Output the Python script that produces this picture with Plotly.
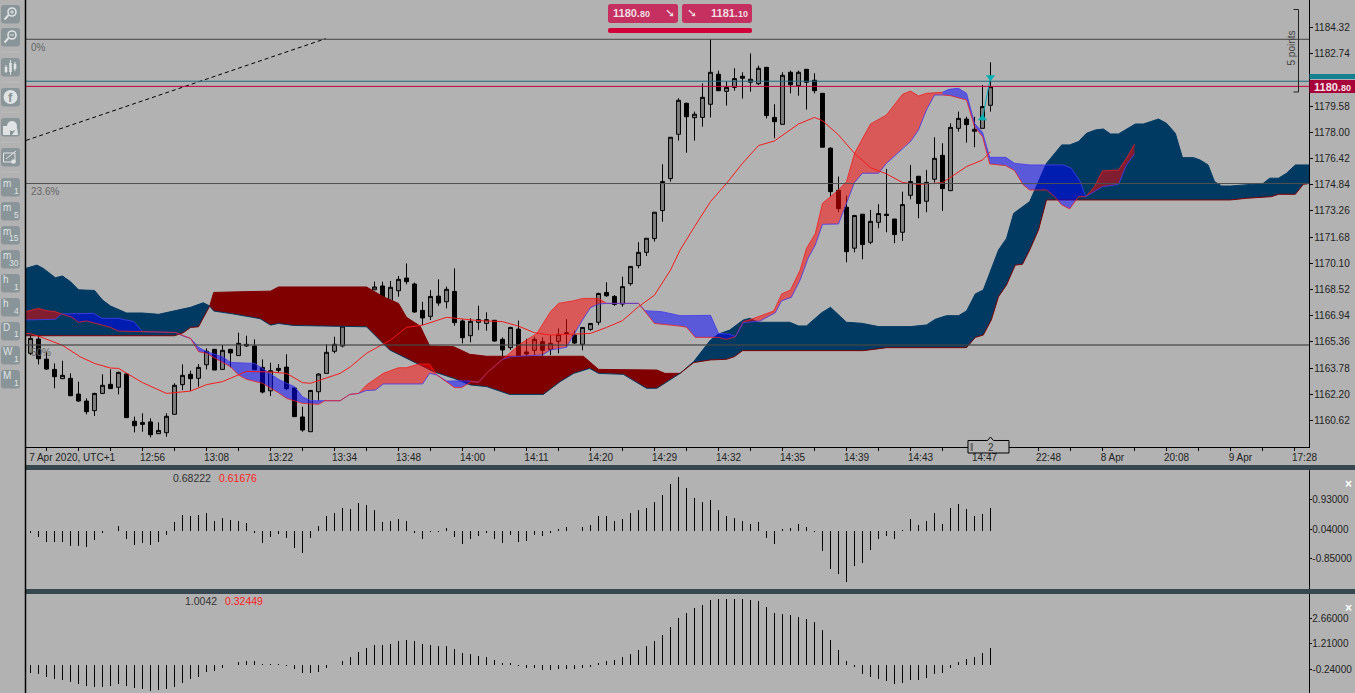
import plotly.graph_objs as go

BG = '#b2b2b2'
W, H = 1355, 693

# candles, prices
opens = [1164.67, 1165.53, 1164.32, 1163.70, 1163.14, 1163.16, 1162.21, 1161.79, 1161.21, 1162.25,
         1162.80, 1162.62, 1163.42, 1160.57, 1160.38, 1160.53, 1159.82, 1159.88, 1160.99, 1162.78,
         1163.40, 1163.16, 1163.98, 1164.91, 1163.70, 1164.91, 1164.53, 1165.21, 1165.11, 1163.82,
         1162.41, 1163.64, 1163.84, 1162.58, 1160.83, 1159.94, 1162.35, 1163.46, 1164.79, 1165.11,
         1166.70, 1167.40, 1167.90, 1168.50, 1168.73, 1167.68, 1168.44, 1169.21, 1168.85, 1167.26,
         1166.90, 1168.12, 1167.78, 1168.40, 1166.62, 1165.73, 1166.54, 1166.47, 1166.66, 1165.51,
         1165.01, 1166.13, 1164.75, 1164.85, 1165.37, 1164.91, 1165.39, 1165.91, 1165.77, 1165.21,
         1166.11, 1166.54, 1168.34, 1168.10, 1167.64, 1168.87, 1169.96, 1170.76, 1171.59, 1173.28,
         1175.21, 1177.88, 1179.75, 1178.88, 1178.90, 1179.69, 1181.50, 1180.47, 1180.71, 1181.38,
         1181.02, 1180.93, 1181.92, 1178.90, 1178.48, 1181.62, 1180.81, 1181.80, 1181.14, 1180.35,
         1177.04, 1174.50, 1173.48, 1171.01, 1173.06, 1171.37, 1172.57, 1173.06, 1172.77, 1171.97,
         1174.20, 1175.35, 1173.84, 1175.17, 1176.61, 1174.48, 1178.24, 1178.80, 1178.06, 1178.24, 1179.63]
closes = [1165.57, 1164.34, 1163.72, 1163.26, 1163.34, 1162.11, 1161.79, 1161.15, 1162.25, 1162.74,
          1162.54, 1163.52, 1160.79, 1160.30, 1160.50, 1159.76, 1160.02, 1160.87, 1162.74, 1163.34,
          1163.14, 1163.82, 1164.79, 1163.66, 1164.85, 1164.69, 1165.27, 1165.11, 1163.68, 1162.33,
          1163.62, 1163.76, 1162.54, 1160.85, 1160.04, 1162.43, 1163.42, 1164.73, 1165.21, 1166.31,
          1167.50, 1167.90, 1168.40, 1168.67, 1168.00, 1168.65, 1169.13, 1168.99, 1167.16, 1166.80,
          1168.10, 1167.70, 1168.53, 1166.52, 1165.61, 1166.60, 1166.70, 1166.70, 1165.41, 1164.87,
          1166.23, 1164.46, 1164.63, 1165.51, 1164.85, 1165.27, 1165.81, 1165.85, 1165.29, 1166.23,
          1166.47, 1168.28, 1168.14, 1167.62, 1168.69, 1169.91, 1170.76, 1171.61, 1173.18, 1175.03,
          1177.70, 1179.93, 1178.94, 1179.09, 1180.11, 1181.62, 1180.51, 1180.71, 1181.24, 1181.26,
          1181.20, 1181.86, 1179.01, 1178.64, 1181.44, 1180.87, 1181.62, 1181.02, 1180.51, 1177.10,
          1174.42, 1173.40, 1170.80, 1172.98, 1171.23, 1172.63, 1173.10, 1172.98, 1171.83, 1173.64,
          1175.03, 1173.70, 1174.98, 1176.43, 1174.60, 1178.30, 1178.84, 1178.46, 1178.18, 1179.55, 1180.75]
highs = [1165.77, 1165.77, 1164.77, 1164.06, 1164.22, 1163.46, 1162.96, 1161.95, 1162.29, 1163.40,
         1163.70, 1163.56, 1163.46, 1160.85, 1161.05, 1160.75, 1160.50, 1161.05, 1162.86, 1164.00,
         1163.62, 1164.02, 1164.97, 1164.91, 1165.17, 1164.91, 1165.91, 1165.73, 1165.51, 1164.30,
         1164.10, 1164.02, 1164.61, 1162.58, 1161.45, 1162.45, 1163.46, 1165.21, 1165.67, 1166.31,
         1167.60, 1168.10, 1168.50, 1168.99, 1168.99, 1169.03, 1169.33, 1170.09, 1168.93, 1167.78,
         1168.48, 1169.13, 1168.69, 1169.79, 1166.72, 1166.78, 1167.54, 1167.14, 1166.68, 1165.63,
         1166.27, 1166.64, 1165.55, 1165.67, 1165.63, 1165.77, 1166.17, 1166.72, 1166.03, 1166.23,
         1166.47, 1168.32, 1168.95, 1168.18, 1169.29, 1169.91, 1171.37, 1171.61, 1173.18, 1176.07,
         1177.70, 1180.05, 1179.79, 1179.25, 1180.95, 1183.61, 1181.72, 1181.06, 1181.86, 1181.62,
         1182.76, 1182.02, 1181.92, 1179.69, 1181.62, 1181.72, 1181.72, 1181.80, 1181.56, 1180.35,
         1177.10, 1175.33, 1174.18, 1173.02, 1173.06, 1173.32, 1173.66, 1175.79, 1172.77, 1174.42,
         1176.03, 1175.35, 1175.73, 1177.70, 1177.34, 1178.54, 1179.25, 1178.94, 1178.94, 1180.85, 1182.22]
lows = [1164.57, 1164.00, 1163.66, 1162.56, 1163.14, 1162.11, 1161.75, 1160.99, 1160.89, 1162.21,
        1162.52, 1162.19, 1160.79, 1159.90, 1159.94, 1159.60, 1159.80, 1159.64, 1160.99, 1162.45,
        1162.41, 1162.66, 1163.70, 1163.66, 1163.66, 1163.82, 1164.53, 1165.07, 1163.66, 1162.25,
        1162.09, 1163.50, 1162.45, 1160.85, 1159.94, 1159.94, 1161.81, 1163.46, 1164.67, 1165.03,
        1166.60, 1167.20, 1167.80, 1168.50, 1167.88, 1167.68, 1168.08, 1168.83, 1167.12, 1166.37,
        1166.68, 1167.54, 1167.38, 1166.33, 1165.27, 1165.33, 1166.07, 1166.03, 1165.37, 1164.46,
        1164.87, 1164.42, 1164.46, 1164.57, 1164.51, 1164.57, 1164.67, 1165.07, 1165.23, 1164.85,
        1166.03, 1166.37, 1168.08, 1167.54, 1167.48, 1168.75, 1169.80, 1170.54, 1171.41, 1172.61,
        1175.03, 1177.50, 1176.77, 1177.50, 1178.34, 1178.90, 1180.51, 1179.61, 1180.51, 1180.03,
        1180.45, 1180.85, 1178.84, 1177.64, 1178.48, 1180.35, 1180.21, 1179.37, 1180.35, 1177.10,
        1174.12, 1173.18, 1170.16, 1170.76, 1170.34, 1171.25, 1172.21, 1171.97, 1171.31, 1171.45,
        1173.96, 1172.81, 1173.18, 1174.97, 1173.26, 1174.46, 1178.04, 1177.38, 1177.10, 1178.24, 1179.25]
bars = list(range(len(opens)))

# red moving average
ma_x = [-0.6, 0, 1.2, 4, 6.2, 8, 10, 11, 14, 17, 20, 22, 24, 27, 30, 32, 34, 35, 38.7, 40, 42, 44, 45, 47, 49,
        52, 56, 59, 61, 63, 65, 68, 70, 72, 74, 76, 78, 80, 81.2, 83, 85, 87, 89, 91, 93, 96, 98, 99, 101, 103,
        105, 107, 109, 111, 113, 114, 117, 119, 120]
ma_y = [1165.87, 1165.85, 1165.67, 1165.15, 1164.46, 1164.06, 1163.78, 1163.76, 1162.90, 1162.25, 1162.39,
        1162.78, 1162.96, 1163.58, 1163.54, 1163.46, 1162.90, 1162.86, 1163.46, 1163.86, 1164.67, 1165.23,
        1165.47, 1166.23, 1166.37, 1166.84, 1166.64, 1166.58, 1166.31, 1165.91, 1165.77, 1165.83, 1165.87,
        1166.23, 1166.64, 1167.48, 1168.18, 1169.69, 1170.90, 1172.31, 1173.82, 1174.92, 1176.13, 1177.20,
        1177.48, 1178.50, 1178.90, 1178.70, 1177.84, 1176.73, 1175.87, 1175.49, 1174.97, 1174.86, 1174.92,
        1174.96, 1175.93, 1176.33, 1176.83]

# opaque cloud, navy and dark red sections
navy1_up_x = [-0.6, 0.8, 1.6, 3.1, 4, 5, 6, 8, 9, 10, 12, 14, 16, 18, 20, 21.6, 22.4]
navy1_up_y = [1169.79, 1169.99, 1169.79, 1169.23, 1169.33, 1168.99, 1168.50, 1168.46, 1167.88, 1167.52,
              1167.10, 1167.10, 1167.02, 1167.24, 1167.44, 1167.72, 1167.52]
navy1_lo_x = [-0.6, 18, 19.1, 20, 21, 22.4]
navy1_lo_y = [1165.73, 1165.73, 1165.91, 1166.23, 1166.27, 1167.52]

dred1_up_x = [22.4, 22.9, 26.2, 30, 31, 42, 44.1, 46, 47, 48.7, 49.9, 52.9, 54.9, 57, 69.1, 69.9, 71, 78.3, 79.3, 81.2]
dred1_up_y = [1167.52, 1168.34, 1168.38, 1168.42, 1168.67, 1168.67, 1168.08, 1167.68, 1166.84, 1166.31,
              1165.11, 1165.07, 1164.61, 1164.49, 1164.49, 1164.16, 1163.70, 1163.66, 1163.46, 1163.46]
dred1_lo_x = [22.4, 22.9, 25.4, 28.7, 30, 31, 32.9, 36.2, 42, 44.9, 47.4, 50.4, 52.9, 55, 57, 59.9, 64.1, 66.2,
              67.9, 69.9, 71, 74.1, 77, 78.3, 81.2]
dred1_lo_y = [1167.52, 1167.22, 1167.04, 1166.76, 1166.37, 1166.47, 1166.35, 1166.31, 1166.27, 1164.87, 1164.26,
              1163.56, 1163.16, 1162.76, 1162.66, 1162.19, 1162.19, 1162.96, 1163.46, 1163.76, 1163.46, 1163.40,
              1162.56, 1162.56, 1163.46]

navy2_up_x = [81.2, 82.9, 85, 86, 87.4, 89.1, 89.9, 91, 94.9, 96, 97, 98.9, 100, 102, 103.9, 106, 110, 112, 113.1,
              114.5, 116, 117, 118.1, 119.1, 121, 122, 122.9, 123.7, 124.9, 127, 128.9, 129.9, 131, 132, 133.1,
              134.1, 135, 136, 138.1, 139.1, 141, 142, 143.1, 144, 145.4, 146.2, 147.2, 148, 148.9, 150, 152,
              154.1, 154.9, 156, 157, 158.1, 159.9]
navy2_up_y = [1163.46, 1164.17, 1165.47, 1165.83, 1166.07, 1166.68, 1166.78, 1166.54, 1166.54, 1166.32, 1166.32,
              1167.12, 1167.44, 1166.54, 1166.48, 1166.28, 1166.28, 1166.38, 1166.72, 1166.94, 1166.94, 1167.22,
              1168.25, 1168.49, 1170.90, 1171.60, 1173.11, 1173.41, 1173.82, 1176.13, 1177.24, 1177.24, 1177.44,
              1177.94, 1178.14, 1178.20, 1177.90, 1177.90, 1178.50, 1178.50, 1178.80, 1178.54, 1177.94, 1176.47,
              1176.47, 1176.33, 1176.03, 1175.03, 1174.76, 1174.76, 1174.82, 1174.92, 1175.23, 1175.23, 1175.53,
              1176.03, 1176.03]
navy2_lo_x = [81.2, 82.9, 85, 87, 88, 89, 104.1, 106, 107, 117, 118.1, 119.1, 120.1, 121, 122, 123.1, 124, 124.9,
              126, 127, 150, 152, 155.1, 156, 158.1, 159.1, 159.9]
navy2_lo_y = [1163.46, 1164.11, 1164.27, 1164.31, 1164.47, 1164.83, 1164.83, 1164.93, 1165.01, 1165.01, 1165.63,
              1165.77, 1166.68, 1168.08, 1168.79, 1169.99, 1170.04, 1170.90, 1172.11, 1173.92, 1173.92, 1174.02,
              1174.12, 1174.26, 1174.26, 1174.86, 1174.92]

# translucent cloud, alternating red and blue sections
red0_up_x = [-0.6, 1, 2, 3.1, 3.9]
red0_up_y = [1167.18, 1167.38, 1167.24, 1167.18, 1167.04]
red0_lo_x = [-0.6, 2, 3.1, 3.9]
red0_lo_y = [1166.68, 1166.72, 1166.72, 1167.04]

blue1_up_x = [3.9, 7.9, 8.9, 11, 12.9, 14, 17.9, 18.1]
blue1_up_y = [1167.04, 1167.08, 1166.78, 1166.78, 1166.58, 1165.97, 1165.93, 1165.93]
blue1_lo_x = [3.9, 5.2, 6, 7, 9, 10, 11, 14, 17.9, 18.1]
blue1_lo_y = [1167.04, 1166.84, 1166.54, 1166.62, 1166.37, 1166.23, 1166.01, 1165.97, 1165.93, 1165.93]

blue2_up_x = [18.1, 19.1, 20, 21, 22, 24, 25, 28, 29, 31, 32, 33, 34, 35, 36.8, 38.7, 39.9, 41]
blue2_up_y = [1165.93, 1165.71, 1165.57, 1165.03, 1164.77, 1164.46, 1164.12, 1164.06, 1163.76, 1163.10, 1162.86,
              1162.66, 1162.05, 1161.81, 1161.81, 1161.81, 1162.19, 1162.25]
blue2_lo_x = [18.1, 20, 21, 22, 24, 25, 26, 27, 29, 31, 32, 34, 36, 36.8, 38.7, 39.9, 41]
blue2_lo_y = [1165.93, 1165.57, 1164.77, 1164.67, 1164.12, 1163.86, 1163.36, 1163.10, 1162.86, 1162.29, 1161.95,
              1161.65, 1161.59, 1161.81, 1161.81, 1162.19, 1162.25]

red2_up_x = [41, 42, 44.1, 46, 47, 48.5, 49.9, 50.8]
red2_up_y = [1162.25, 1162.76, 1163.46, 1163.80, 1163.80, 1164.02, 1164.02, 1163.36]
red2_lo_x = [41, 42, 43.1, 44.1, 49, 49.9, 50.8]
red2_lo_y = [1162.25, 1162.43, 1162.45, 1162.82, 1162.82, 1163.46, 1163.36]

blue3_up_x = [50.8, 52, 54.7, 56, 57.2, 59]
blue3_up_y = [1163.36, 1163.00, 1163.00, 1162.92, 1163.56, 1164.30]
blue3_lo_x = [50.8, 53, 53.9, 55.1, 56, 57.2, 59]
blue3_lo_y = [1163.36, 1162.60, 1162.60, 1162.96, 1162.92, 1163.56, 1164.30]

red3_up_x = [59, 61.2, 63.3, 65, 66, 67.9, 69, 71, 72, 76]
red3_up_y = [1164.30, 1165.23, 1165.87, 1167.18, 1167.68, 1167.84, 1167.98, 1167.98, 1167.68, 1167.68]
red3_lo_x = [59, 60, 64, 65, 67, 68, 69, 70, 71, 72, 76]
red3_lo_y = [1164.30, 1164.46, 1164.57, 1164.87, 1165.03, 1165.87, 1166.68, 1167.42, 1167.64, 1167.68, 1167.68]

blue4_up_x = [76, 76.8, 78.9, 81.2, 85, 86, 87.4, 88.1]
blue4_up_y = [1167.68, 1167.24, 1167.18, 1166.94, 1166.96, 1165.87, 1165.83, 1165.67]
blue4_lo_x = [76, 78, 81.2, 82, 83.1, 86, 87, 88.1]
blue4_lo_y = [1167.68, 1166.47, 1166.31, 1166.24, 1165.63, 1165.63, 1165.51, 1165.67]

red4_up_x = [88.1, 89.1, 90.1, 92.9, 93.9, 95, 96.2, 97, 98.1, 99, 101, 102, 103, 104, 105, 107, 109, 110, 111, 112, 114]
red4_up_y = [1165.67, 1166.58, 1166.72, 1167.22, 1168.25, 1168.49, 1169.69, 1171.00, 1171.90, 1173.72, 1174.52,
             1175.03, 1176.73, 1177.64, 1178.50, 1179.05, 1180.29, 1180.49, 1180.19, 1180.35, 1180.41]
red4_lo_x = [88.1, 89.1, 91.2, 93.1, 93.9, 95.1, 96.2, 97.2, 98.1, 99, 101, 103, 104, 106, 107, 109, 110, 111, 112, 113, 114]
red4_lo_y = [1165.67, 1166.52, 1166.62, 1167.12, 1167.84, 1168.04, 1169.09, 1170.40, 1171.20, 1172.45, 1172.47,
             1174.97, 1175.53, 1175.53, 1176.13, 1177.04, 1177.44, 1178.14, 1179.35, 1180.25, 1180.25]

blue5_up_x = [114, 114.8, 116, 117, 118, 119, 119.9, 121.9, 123, 124.9, 129.1, 130.1, 131.2, 131.9]
blue5_up_y = [1180.41, 1180.59, 1180.65, 1180.35, 1178.54, 1178.00, 1176.49, 1176.49, 1176.13, 1176.03, 1176.03,
              1175.83, 1175.03, 1174.12]
blue5_lo_x = [114, 115, 117, 118, 119, 119.9, 121.9, 123, 124.1, 124.9, 127, 128, 128.9, 129.9, 131, 131.9]
blue5_lo_y = [1180.25, 1180.21, 1179.95, 1178.34, 1177.74, 1176.09, 1175.99, 1175.69, 1174.82, 1174.52, 1174.52,
              1174.12, 1173.62, 1173.38, 1174.12, 1174.12]

red5_up_x = [131.9, 133, 134, 136, 137, 138]
red5_up_y = [1174.12, 1174.72, 1175.67, 1175.73, 1176.43, 1177.28]
red5_lo_x = [131.9, 133, 134, 136, 137, 138]
red5_lo_y = [1174.12, 1174.42, 1174.72, 1174.86, 1176.03, 1176.69]

# price levels and drawings
fib_levels = [1183.61, 1174.91, 1165.17]
ask_level = 1181.08
bid_level = 1180.77
trend_x = [-0.56, 36.9]
trend_y = [1177.51, 1183.65]
trade_x = [119, 120]
trade_y = [1178.84, 1181.32]

# oscillators
osc1 = [-0.08, -0.20, -0.33, -0.34, -0.33, -0.47, -0.47, -0.50, -0.27, -0.06, 0, 0.15, -0.26, -0.44, -0.38, -0.44,
        -0.35, -0.12, 0.27, 0.48, 0.43, 0.46, 0.53, 0.30, 0.37, 0.31, 0.30, 0.24, -0.06, -0.38, -0.20, -0.09, -0.23,
        -0.51, -0.67, -0.23, 0.13, 0.45, 0.54, 0.68, 0.66, 0.84, 0.78, 0.62, 0.25, 0.30, 0.36, 0.30, -0.08, -0.26,
        -0.05, -0.05, 0.09, -0.20, -0.41, -0.26, -0.15, -0.08, -0.26, -0.38, -0.12, -0.33, -0.30, -0.12, -0.15,
        -0.06, 0.06, 0.12, 0, 0.12, 0.18, 0.45, 0.45, 0.30, 0.36, 0.53, 0.62, 0.68, 0.86, 1.07, 1.40, 1.63, 1.28,
        0.98, 0.86, 0.92, 0.62, 0.45, 0.39, 0.30, 0.21, 0.27, -0.23, -0.41, 0.04, 0.09, 0.21, 0.12, -0.04, -0.61,
        -1.15, -1.32, -1.56, -1.06, -0.97, -0.58, -0.26, -0.15, -0.26, 0.03, 0.36, 0.18, 0.30, 0.53, 0.21, 0.68,
        0.80, 0.65, 0.45, 0.50, 0.68222]
osc2 = [-0.48, -0.54, -0.68, -0.77, -0.83, -0.95, -1.10, -1.22, -1.24, -1.24, -1.20, -1.06, -1.20, -1.31, -1.37,
        -1.47, -1.45, -1.35, -1.24, -1.00, -0.81, -0.68, -0.42, -0.33, -0.15, 0, 0.19, 0.25, 0.25, 0.06, 0.06, 0.06,
        -0.06, -0.23, -0.48, -0.48, -0.39, -0.19, 0, 0.23, 0.46, 0.75, 0.98, 1.16, 1.16, 1.22, 1.35, 1.45, 1.35,
        1.18, 1.16, 1.10, 1.10, 0.93, 0.69, 0.64, 0.52, 0.46, 0.29, 0.12, 0.12, -0.06, -0.17, -0.17, -0.29, -0.29,
        -0.23, -0.23, -0.23, -0.17, -0.12, 0.12, 0.23, 0.29, 0.46, 0.64, 0.87, 1.10, 1.39, 1.74, 2.20, 2.72, 3.01,
        3.24, 3.42, 3.71, 3.76, 3.76, 3.76, 3.76, 3.71, 3.65, 3.30, 3.01, 2.95, 2.84, 2.78, 2.66, 2.49, 2.03, 1.45,
        0.87, 0.23, -0.12, -0.52, -0.69, -0.81, -0.93, -1.10, -1.04, -0.87, -0.87, -0.75, -0.52, -0.46, -0.17, 0.17,
        0.35, 0.46, 0.69, 1.0042]

# ticks
price_ticks = [1160.62, 1162.20, 1163.78, 1165.36, 1166.94, 1168.52, 1170.10, 1171.68, 1173.26, 1174.84,
               1176.42, 1178.00, 1179.58, 1182.74, 1184.32]
time_pos = [5.2] + [15.25 + 8 * k for k in range(19)]
time_labels = ['7 Apr 2020, UTC+1', '12:56', '13:08', '13:22', '13:34', '13:48', '14:00', '14:11', '14:20', '14:29',
               '14:32', '14:35', '14:39', '14:43', '14:47', '22:48', '8 Apr', '20:08', '9 Apr', '17:28']
osc1_ticks = [0.93, 0.04, -0.85]
osc1_labels = ['0.93000', '0.04000', '-0.85000']
osc2_ticks = [2.66, 1.21, -0.24]
osc2_labels = ['2.66000', '1.21000', '-0.24000']

NAVY = '#003a63'
DRED = '#800000'
RED_FILL = 'rgba(255,0,0,0.5)'
BLUE_FILL = 'rgba(0,0,255,0.5)'
RED_LINE = 'rgba(245,30,30,0.8)'
BLUE_LINE = 'rgba(70,60,235,0.85)'


def px(x):
    return x / W


def py(y):
    return 1 - y / H


def band(up_x, up_y, lo_x, lo_y, fill, up_col, lo_col):
    poly_x = up_x + lo_x[::-1]
    poly_y = up_y + lo_y[::-1]
    tr = [go.Scatter(x=poly_x, y=poly_y, mode='none', fill='toself', fillcolor=fill, hoverinfo='skip')]
    tr.append(go.Scatter(x=up_x, y=up_y, mode='lines', line=dict(color=up_col, width=1), hoverinfo='skip'))
    tr.append(go.Scatter(x=lo_x, y=lo_y, mode='lines', line=dict(color=lo_col, width=1), hoverinfo='skip'))
    return tr


candles = go.Candlestick(x=bars, open=opens, high=highs, low=lows, close=closes, whiskerwidth=0,
                         increasing=dict(line=dict(color='#000000', width=1), fillcolor='#7f7f7f'),
                         decreasing=dict(line=dict(color='#000000', width=1), fillcolor='#000000'))

data = [candles]
data += band(navy1_up_x, navy1_up_y, navy1_lo_x, navy1_lo_y, NAVY, NAVY, DRED)
data += band(dred1_up_x, dred1_up_y, dred1_lo_x, dred1_lo_y, DRED, DRED, NAVY)
data += band(navy2_up_x, navy2_up_y, navy2_lo_x, navy2_lo_y, NAVY, NAVY, DRED)
data += band(red0_up_x, red0_up_y, red0_lo_x, red0_lo_y, RED_FILL, RED_LINE, BLUE_LINE)
data += band(blue1_up_x, blue1_up_y, blue1_lo_x, blue1_lo_y, BLUE_FILL, BLUE_LINE, RED_LINE)
data += band(blue2_up_x, blue2_up_y, blue2_lo_x, blue2_lo_y, BLUE_FILL, BLUE_LINE, RED_LINE)
data += band(red2_up_x, red2_up_y, red2_lo_x, red2_lo_y, RED_FILL, RED_LINE, BLUE_LINE)
data += band(blue3_up_x, blue3_up_y, blue3_lo_x, blue3_lo_y, BLUE_FILL, BLUE_LINE, RED_LINE)
data += band(red3_up_x, red3_up_y, red3_lo_x, red3_lo_y, RED_FILL, RED_LINE, BLUE_LINE)
data += band(blue4_up_x, blue4_up_y, blue4_lo_x, blue4_lo_y, BLUE_FILL, BLUE_LINE, RED_LINE)
data += band(red4_up_x, red4_up_y, red4_lo_x, red4_lo_y, RED_FILL, RED_LINE, BLUE_LINE)
data += band(blue5_up_x, blue5_up_y, blue5_lo_x, blue5_lo_y, BLUE_FILL, BLUE_LINE, RED_LINE)
data += band(red5_up_x, red5_up_y, red5_lo_x, red5_lo_y, RED_FILL, RED_LINE, BLUE_LINE)

data.append(go.Scatter(x=ma_x, y=ma_y, mode='lines', line=dict(color='#f41a1a', width=1), hoverinfo='skip'))
data.append(go.Scatter(x=trend_x, y=trend_y, mode='lines', line=dict(color='#000000', width=1, dash='4px,3px'),
                       hoverinfo='skip'))
data.append(go.Scatter(x=trade_x, y=trade_y, mode='lines+markers', line=dict(color='#00aeb4', width=1),
                       marker=dict(symbol=['triangle-up', 'triangle-down'], size=8, color='#00aeb4'),
                       hoverinfo='skip'))
# a touch of transparency stops plotly widening the 1px bars to 2px
data.append(go.Bar(x=bars, y=osc1, width=0.125, marker=dict(color='rgba(0,0,0,0.99)', line=dict(width=0)),
                   xaxis='x2', yaxis='y2'))
data.append(go.Bar(x=bars, y=osc2, width=0.125, marker=dict(color='rgba(0,0,0,0.99)', line=dict(width=0)),
                   xaxis='x3', yaxis='y3'))

shapes = []


def hline(price, color, width):
    shapes.append(dict(type='line', xref='x', yref='y', x0=-0.56, x1=159.85, y0=price, y1=price,
                       line=dict(color=color, width=width), layer='above'))


hline(fib_levels[0], '#444444', 1)
hline(fib_levels[1], '#505050', 1)
hline(fib_levels[2], 'rgba(70,70,70,0.62)', 2)
hline(ask_level, '#1c6b80', 1)
hline(bid_level, '#c8003c', 1)


def paper_rect(x0, y0, x1, y1, fill, line=None, layer='above'):
    shapes.append(dict(type='rect', xref='paper', yref='paper', x0=px(x0), x1=px(x1), y0=py(y0), y1=py(y1),
                       fillcolor=fill, line=dict(width=0) if line is None else line, layer=layer))


def paper_line(x0, y0, x1, y1, color, width=1):
    shapes.append(dict(type='line', xref='paper', yref='paper', x0=px(x0), x1=px(x1), y0=py(y0), y1=py(y1),
                       line=dict(color=color, width=width), layer='above'))


def paper_circle(cx, cy, r, fill, line=None):
    shapes.append(dict(type='circle', xref='paper', yref='paper', x0=px(cx - r), x1=px(cx + r), y0=py(cy + r),
                       y1=py(cy - r), fillcolor=fill, line=dict(width=0) if line is None else line, layer='above'))


def round_rect(x0, y0, x1, y1, r, fill, line=None):
    path = 'M%f,%f L%f,%f Q%f,%f %f,%f L%f,%f Q%f,%f %f,%f L%f,%f Q%f,%f %f,%f L%f,%f Q%f,%f %f,%f Z' % (
        px(x0 + r), py(y0), px(x1 - r), py(y0), px(x1), py(y0), px(x1), py(y0 + r),
        px(x1), py(y1 - r), px(x1), py(y1), px(x1 - r), py(y1),
        px(x0 + r), py(y1), px(x0), py(y1), px(x0), py(y1 - r),
        px(x0), py(y0 + r), px(x0), py(y0), px(x0 + r), py(y0))
    shapes.append(dict(type='path', xref='paper', yref='paper', path=path, fillcolor=fill,
                       line=dict(width=0) if line is None else line, layer='above'))


annotations = []


def label(x, y, text, color='#333333', size=10, anchor='left', angle=0, font='Liberation Sans'):
    annotations.append(dict(x=px(x), y=py(y), xref='paper', yref='paper', text=text, showarrow=False, xanchor=anchor,
                            yanchor='middle', align='left', textangle=angle, borderpad=0, borderwidth=0,
                            font=dict(color=color, size=size, family=font)))


# panel separators and left border
paper_rect(26, 465, W, 470, '#37474f')
paper_rect(26, 589, W, 594, '#37474f')
paper_line(25.5, 0, 25.5, H, '#000000', 1.5)

# toolbar
ICON = '#8a9599'
GLYPH = '#dfe3e3'
icon_tops = [5, 28, 58, 88, 118, 148, 178, 202, 226, 250, 274, 298, 322, 346, 370]
for top in icon_tops:
    round_rect(1, top, 20, top + 18.5, 3, ICON)
for y in [52, 82, 112, 142, 172]:
    paper_line(1, y, 20, y, '#bdbdbd', 1)

paper_circle(12, 12, 4, ICON, dict(color=GLYPH, width=1.6))
paper_line(8.5, 15, 4.5, 19.5, GLYPH, 2)
paper_line(10, 12, 14, 12, GLYPH, 1)
paper_line(12, 10, 12, 14, GLYPH, 1)
paper_circle(12, 35, 4, ICON, dict(color=GLYPH, width=1.6))
paper_line(8.5, 38, 4.5, 42.5, GLYPH, 2)
paper_line(10, 35, 14, 35, GLYPH, 1)
for cx, y0, y1, t0, t1 in [(6, 65, 73, 67, 72), (10.5, 60, 75, 63, 72), (15, 62, 71, 64, 69)]:
    paper_line(cx, y0, cx, y1, GLYPH, 1)
    paper_rect(cx - 1.3, t0, cx + 1.3, t1, GLYPH)
paper_circle(10.5, 97, 7, GLYPH)
label(10.5, 97.5, '<b>f</b>', ICON, 13, 'center')
paper_circle(12, 126, 5, GLYPH)
paper_rect(3, 126, 10, 135, GLYPH)
shapes.append(dict(type='path', xref='paper', yref='paper', layer='above', fillcolor=GLYPH, line=dict(width=0),
                   path='M%f,%f L%f,%f L%f,%f Z' % (px(12), py(135), px(17), py(127), px(18), py(135))))
paper_rect(3.5, 153, 15, 162, ICON, dict(color=GLYPH, width=1))
paper_line(6, 159, 16, 151, GLYPH, 1)
paper_circle(13.5, 161.5, 2.3, GLYPH)
for top, a, b in zip(icon_tops[6:], ['m', 'm', 'm', 'm', 'h', 'h', 'D', 'W', 'M'], ['1', '5', '15', '30', '1', '4', '1', '1', '1']):
    label(2.5, top + 5.5, a, GLYPH, 10)
    label(18.5, top + 12.5, b, GLYPH, 8.5, 'right')

# price tags over the top
round_rect(608, 4, 678, 23, 2.5, '#c53060')
round_rect(682, 4, 752, 23, 2.5, '#c53060')
round_rect(608, 28, 752, 33, 2, '#d00038')
label(612.5, 13.5, '<b>1180.<span style="font-size:9px">80</span></b>', '#f0dfe2', 11)
label(747.5, 13.5, '<b>1181.<span style="font-size:9px">10</span></b>', '#f0dfe2', 11, 'right')
label(669.5, 13.5, '\u2798', '#f0dfe2', 12, 'center', font='DejaVu Sans')
label(691.5, 13.5, '\u2798', '#f0dfe2', 12, 'center', font='DejaVu Sans')

# axis price flags
paper_rect(1309.5, 74, W, 79, '#14808f')
paper_rect(1309.5, 80, W, 93, '#a80038')
label(1314, 86.5, '<b>1180.<span style="font-size:9px">80</span></b>', '#f5e6ea', 11)

# bracket
paper_line(1293.5, 9.5, 1298.5, 9.5, '#222222', 1)
paper_line(1298.5, 9.5, 1298.5, 92, '#222222', 1)
paper_line(1293.5, 92, 1298.5, 92, '#222222', 1)
label(1291.5, 48, '5 points', '#444444', 10, 'center', -90)

# fib labels
label(30.5, 47.5, '0%', '#666666', 10)
label(30.5, 191.5, '23.6%', '#666666', 10)
label(31, 352.5, '50%', '#666666', 10)

# scroll tab
shapes.append(dict(type='path', xref='paper', yref='paper', layer='above', fillcolor=BG,
                   line=dict(color='#000000', width=1),
                   path='M%f,%f L%f,%f L%f,%f L%f,%f L%f,%f L%f,%f L%f,%f Z' % (
                       px(968), py(440.5), px(987.5), py(440.5), px(990.5), py(437), px(993.5), py(440.5),
                       px(1009), py(440.5), px(1009), py(453), px(968), py(453))))
for dy in [444, 446, 448, 450]:
    paper_line(970.5, dy, 973, dy, '#333333', 1)
label(990.5, 447, '2', '#333333', 10, 'center')

# oscillator values
label(173, 477.5, '0.68222', '#333333', 10.5)
label(219, 477.5, '0.61676', '#ff2020', 10.5)
label(185, 601, '1.0042', '#333333', 10.5)
label(225, 601, '0.32449', '#ff2020', 10.5)
label(1348, 483.5, '<b>\u00d7</b>', '#ffffff', 12, 'center')
label(1348, 607.5, '<b>\u00d7</b>', '#ffffff', 12, 'center')

x_domain = [px(26), px(1309.3)]
x_range = [-0.5625, 159.85]
axis_font = dict(color='#222222', size=10, family='Liberation Sans')
time_font = dict(color='#222222', size=10, family='Liberation Sans')

layout = go.Layout(
    width=W, height=H, margin=dict(l=0, r=0, t=0, b=0), paper_bgcolor=BG, plot_bgcolor=BG, showlegend=False,
    shapes=shapes, annotations=annotations, bargap=0, hovermode=False,
    xaxis=dict(domain=x_domain, range=x_range, anchor='y', automargin=False, showgrid=False, zeroline=False,
               showline=True, linecolor='#000000', linewidth=1, rangeslider=dict(visible=False), tickmode='array',
               tickvals=time_pos, ticktext=time_labels, ticks='', tickangle=0, tickfont=time_font,
               ticklabelstandoff=1,
               minor=dict(tickmode='linear', tick0=2, dtick=4, ticks='outside', ticklen=3, tickcolor='#000000',
                          showgrid=False)),
    yaxis=dict(domain=[py(447.3), 1], range=[1159.0, 1185.98], anchor='x', side='right', automargin=False,
               showgrid=False, zeroline=False, showline=True, linecolor='#000000', linewidth=1, tickmode='array',
               tickvals=price_ticks, tickformat='.2f', ticks='outside', ticklen=3, tickcolor='#000000',
               tickfont=axis_font, ticklabelstandoff=-1),
    xaxis2=dict(domain=x_domain, range=x_range, anchor='y2', visible=False, automargin=False),
    yaxis2=dict(domain=[py(589), py(470)], range=[-1.76, 1.83], anchor='x2', side='right', automargin=False,
                showgrid=False, zeroline=False, showline=True, linecolor='#000000', linewidth=1, tickmode='array',
                tickvals=osc1_ticks, ticktext=osc1_labels, ticks='outside', ticklen=2, tickcolor='#000000',
                tickfont=axis_font, ticklabelstandoff=-2),
    xaxis3=dict(domain=x_domain, range=x_range, anchor='y3', visible=False, automargin=False),
    yaxis3=dict(domain=[0, py(594)], range=[-1.60, 4.07], anchor='x3', side='right', automargin=False,
                showgrid=False, zeroline=False, showline=True, linecolor='#000000', linewidth=1, tickmode='array',
                tickvals=osc2_ticks, ticktext=osc2_labels, ticks='outside', ticklen=2, tickcolor='#000000',
                tickfont=axis_font, ticklabelstandoff=-2),
)

fig = go.Figure(data=data, layout=layout)
fig.write_html('out.html', config=dict(displayModeBar=False),
               post_script="document.body.style.margin='0';document.body.style.overflow='hidden';")
